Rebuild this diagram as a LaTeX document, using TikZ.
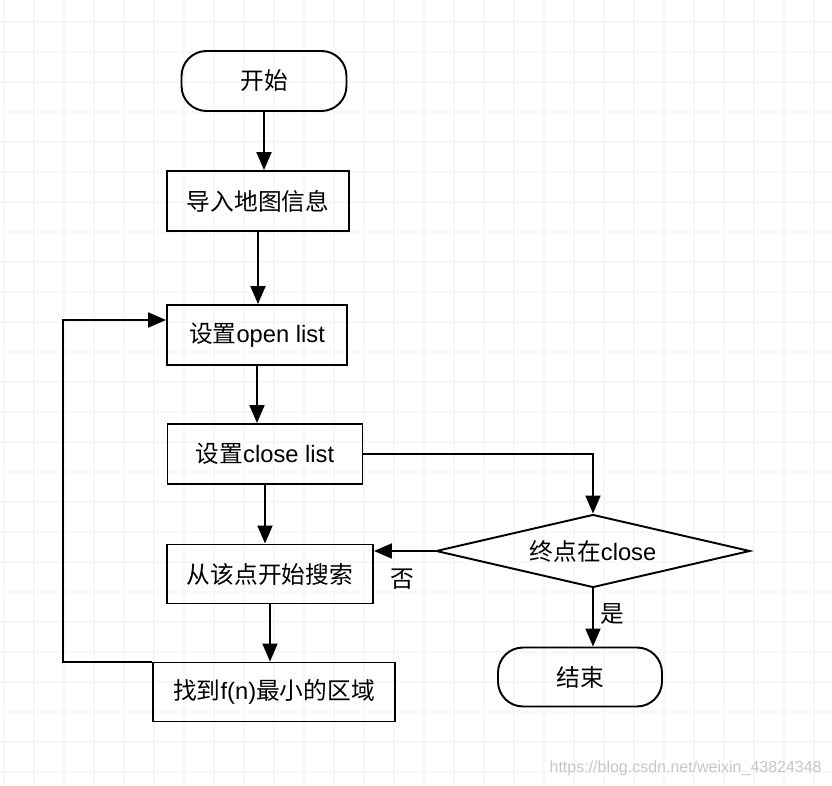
\documentclass[tikz,border=0pt]{standalone}
\usepackage{fontspec}
\setmainfont{Liberation Sans}
\newfontfamily\cjk{Noto Sans CJK SC}
\usetikzlibrary{arrows.meta,shapes.geometric}

\tikzset{
  flowbox/.style={draw, line width=1.1pt, minimum height=1.2cm, inner sep=0pt,
    font=\fontsize{13.5}{16}\selectfont},
  termbox/.style={flowbox, rounded corners=0.5cm},
  decide/.style={flowbox, diamond, aspect=4.3, minimum height=1.46cm},
  flow/.style={line width=1.1pt, -{Triangle[length=0.36cm,width=0.3cm]}},
  answer/.style={font=\fontsize{13.5}{16}\selectfont\cjk},
}

\begin{document}
\begin{tikzpicture}[x=0.02cm,y=-0.02cm]
      % page size of the reference
      \useasboundingbox (0,0) rectangle (832,786);

      % faint background grid
      \foreach \gx in {4,34,...,830} \draw[gray!6, line width=0.6pt] (\gx,0) -- (\gx,786);
      \foreach \gy in {22,52,...,786} \draw[gray!6, line width=0.6pt] (0,\gy) -- (832,\gy);

      % steps of the search
      \node[termbox, minimum width=3.3cm] (start) at (264,81) {\cjk 开始};
      \node[flowbox, minimum width=3.64cm] (import) at (258,201) {\cjk 导入地图信息};
      \node[flowbox, minimum width=3.6cm] (open) at (257,335) {{\cjk 设置}open list};
      \node[flowbox, minimum width=3.9cm] (close) at (265,454) {{\cjk 设置}close list};
      \node[flowbox, minimum width=4.12cm, minimum height=1.18cm] (search) at (270,574) {\cjk 从该点开始搜索};
      \node[flowbox, minimum width=4.84cm, minimum height=1.18cm] (find) at (274,692) {{\cjk 找到}f(n){\cjk 最小的区域}};

      % test and end
      \node[decide, minimum width=6.28cm] (goal) at (593,551) {{\cjk 终点在}close};
      \node[termbox, minimum width=3.28cm, minimum height=1.18cm] (stop) at (580,677) {\cjk 结束};

      % straight arrows down the main column
      \draw[flow] (start.south) -- (start.south |- import.north);
      \draw[flow] (import.south) -- (import.south |- open.north);
      \draw[flow] (open.south) -- (open.south |- close.north);
      \draw[flow] (close.south) -- (close.south |- search.north);
      \draw[flow] (search.south) -- (search.south |- find.north);

      % branch to the test, and its two answers
      \draw[flow] (close.east) -| (goal.north);
      \draw[flow] (goal.west) -- (search.east |- goal.west);
      \draw[flow] (goal.south) -- (goal.south |- stop.north);
      \node[answer] (no) at (402,579) {否};
      \node[answer] (yes) at (612,614) {是};

      % loop back to the open list
      \coordinate (back) at (63,0);
      \draw[flow] (find.north west) -- (find.north west -| back) |- ([yshift=0.3cm]open.west);

      % watermark
      \node[anchor=east, inner sep=0pt, text=gray!45, font=\fontsize{9.1}{11}\selectfont] (mark) at (822,768) {https://blog.csdn.net/weixin\_43824348};
    \end{tikzpicture}
\end{document}
